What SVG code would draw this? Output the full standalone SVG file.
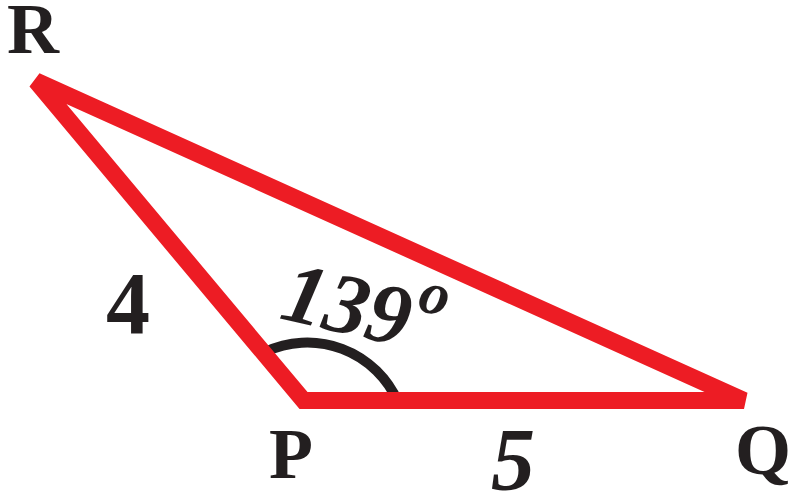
<svg xmlns="http://www.w3.org/2000/svg" width="800" height="503" viewBox="0 0 800 503">
<style>
.lbl{font-family:"Liberation Serif","Times New Roman",serif;font-weight:bold;fill:#231F20}
.it{font-style:italic}
</style>
<rect width="800" height="503" fill="#ffffff"/>
<g id="angle">
<path d="M 265 352 A 99 99 0 0 1 398 402" fill="none" stroke="#231F20" stroke-width="10"/>
</g>
<g id="connectors">
<path id="triangle" d="M 36 81 L 303.5 400.5 L 744 400.5 Z" fill="none" stroke="#ED1C24" stroke-width="17" stroke-linejoin="miter" stroke-miterlimit="4"/>
</g>
<g id="node-R"><text class="lbl" x="7" y="53" font-size="72">R</text></g>
<g id="node-P"><text class="lbl" x="269" y="478" font-size="72">P</text></g>
<g id="node-Q"><text class="lbl" x="735" y="474" font-size="72">Q</text></g>
<g id="label-4"><text class="lbl" x="106" y="333" font-size="88">4</text></g>
<g id="label-5"><text class="lbl it" x="491" y="489" font-size="88">5</text></g>
<g id="label-angle"><text class="lbl it" transform="translate(278 318) rotate(13)" font-size="86">139<tspan font-size="60" dx="4" dy="-39">o</tspan></text></g>
</svg>
